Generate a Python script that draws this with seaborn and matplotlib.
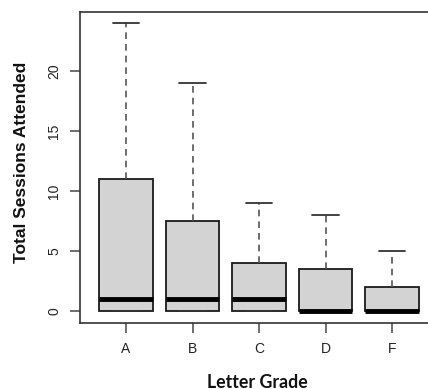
import numpy as np
import pandas as pd
import seaborn as sns
import matplotlib.pyplot as plt

sns.set_theme(style="ticks")
plt.rcParams['font.family'] = ['Liberation Sans', 'DejaVu Sans']

# sessions attended per student, by letter grade
grades = ["A", "B", "C", "D", "F"]
sessions_a = [0, 0, 0, 0, 0, 1, 3, 10, 12, 18, 24]
sessions_b = [0, 0, 0, 0, 0, 1, 2, 7, 8, 12, 19]
sessions_c = [0, 0, 0, 0, 0, 1, 2, 4, 4, 6, 9]
sessions_d = [0, 0, 0, 0, 0, 0, 1, 3, 4, 5, 8]
sessions_f = [0, 0, 0, 0, 0, 0, 1, 2, 2, 3, 5]

rows = []
for g, vals in zip(grades, [sessions_a, sessions_b, sessions_c, sessions_d, sessions_f]):
    for v in vals:
        rows.append({"grade": g, "sessions": v})
df = pd.DataFrame(rows)

W, H = 428, 389
fig = plt.figure(figsize=(W / 100, H / 100), dpi=100)
# plot box runs past the right edge of the image, like the original
left, right, top, bottom = 79.5, 438.6, 11.5, 322.5
ax = fig.add_axes([left / W, (H - bottom) / H, (right - left) / W, (bottom - top) / H])

sns.boxplot(data=df, x="grade", y="sessions", order=grades, ax=ax,
            whis=(0, 100), width=0.8, color="#d3d3d3", saturation=1,
            linecolor="#1a1a1a", linewidth=1.3,
            medianprops=dict(color="black", linewidth=3.5),
            whiskerprops=dict(color="#555555", linestyle=(0, (4, 3)), linewidth=1.2),
            capprops=dict(color="#333333", linewidth=1.3))

ax.set_xlim(-0.7, 4.7)
ax.set_ylim(-0.96, 24.96)
ax.set_yticks([0, 5, 10, 15, 20])
for s in ax.spines.values():
    s.set_color("#333333")
    s.set_linewidth(1.2)

ax.tick_params(axis="both", length=7, width=1.2, color="#555555",
               labelsize=10, labelcolor="#222222")
ax.tick_params(axis="x", pad=7)
ax.tick_params(axis="y", pad=6)
plt.setp(ax.get_yticklabels(), rotation=90, va="center")

ax.set_xlabel("")
ax.set_ylabel("")
fig.text(257 / W, 1 - 382 / H, "Letter Grade",
         family=["Lato", "DejaVu Sans"], weight="bold", fontsize=12.8,
         ha="center", va="center", color="#111111")
fig.text(22 / W, 1 - 162 / H, "Total Sessions Attended", rotation=90,
         family=["Liberation Sans", "DejaVu Sans"], weight="bold", fontsize=12.5,
         ha="center", va="center", color="#111111")

fig.savefig("out.png", dpi=100)
